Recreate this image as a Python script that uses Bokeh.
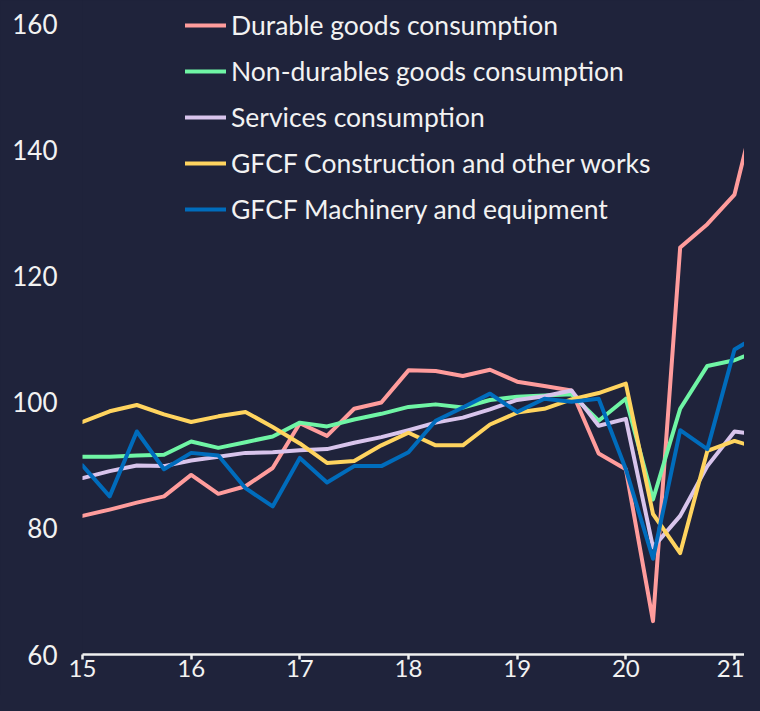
from bokeh.plotting import figure
from bokeh.models import FixedTicker, Range1d
from bokeh.embed import file_html
from bokeh.resources import INLINE

# Quarterly data, 2015Q1 .. 2021Q2 (index, 2019 = 100)
quarters = [f"{y}Q{q}" for y in range(2015, 2022) for q in range(1, 5)][:26]
durable = [82.0, 83.0, 84.1, 85.1, 88.5, 85.5, 86.7, 89.6, 96.7, 94.7, 99.0, 100.0,
           105.1, 105.0, 104.2, 105.2, 103.3, 102.6, 101.9, 91.9, 89.4, 65.3,
           124.6, 128.3, 133.0, 150.5]
nondurable = [91.4, 91.4, 91.6, 91.7, 93.8, 92.8, 93.7, 94.6, 96.8, 96.2, 97.3, 98.2,
              99.3, 99.7, 99.2, 100.4, 100.9, 101.1, 101.3, 97.1, 100.6, 84.6,
              99.0, 105.8, 106.7, 108.5]
services = [88.0, 89.1, 90.0, 89.9, 90.8, 91.4, 92.0, 92.1, 92.4, 92.6, 93.6, 94.5,
            95.6, 96.8, 97.6, 98.9, 100.4, 101.0, 101.9, 96.3, 97.4, 77.0,
            82.0, 89.9, 95.4, 94.8]
construction = [96.9, 98.6, 99.6, 98.1, 96.9, 97.8, 98.5, 96.1, 93.5, 90.4, 90.7, 93.2,
                95.2, 93.2, 93.2, 96.5, 98.4, 99.0, 100.5, 101.5, 103.0, 82.3,
                76.1, 92.3, 93.9, 92.6]
machinery = [90.0, 85.1, 95.4, 89.4, 92.0, 91.6, 86.4, 83.5, 91.2, 87.3, 89.9, 89.9,
             92.1, 97.1, 99.2, 101.4, 98.5, 100.6, 100.1, 100.6, 89.4, 75.2,
             95.6, 92.6, 108.4, 111.0]

series_names = ["Durable goods consumption", "Non-durables goods consumption",
                "Services consumption", "GFCF Construction and other works",
                "GFCF Machinery and equipment"]
series_colors = ["#FF9C9C", "#6FF5A5", "#D8C4EC", "#FFD45F", "#006CBC"]

tick_years = [2015, 2016, 2017, 2018, 2019, 2020, 2021]
tick_labels = ["15", "16", "17", "18", "19", "20", "21"]
y_ticks = [60, 80, 100, 120, 140, 160]

x = [int(qs[:4]) + (int(qs[5]) - 1) / 4 for qs in quarters]

BG = "#1F233B"
TXT = "#F2F2F2"
AXIS = "#F0F0F0"
FONT = "Lato"

p = figure(width=744, height=695, output_backend="svg", toolbar_location=None,
           x_range=Range1d(2015, 2021.092), y_range=Range1d(60, 163.8),
           min_border_left=82, min_border_right=0, min_border_top=0,
           min_border_bottom=41)
p.background_fill_color = BG
p.border_fill_color = BG
p.outline_line_color = None
p.grid.visible = False

for data, name, col in zip([durable, nondurable, services, construction, machinery],
                           series_names, series_colors):
    p.line(x, data, color=col, line_width=4, line_join="round", line_cap="round",
           legend_label=name)

# x axis
xa = p.xaxis[0]
xa.ticker = FixedTicker(ticks=tick_years)
xa.major_label_overrides = {yr: lab for yr, lab in zip(tick_years, tick_labels)}
xa.minor_tick_line_color = None
xa.axis_line_color = AXIS
xa.axis_line_width = 2.5
xa.major_tick_line_color = AXIS
xa.major_tick_line_width = 2.5
xa.major_tick_in = 0
xa.major_tick_out = 5
xa.major_label_standoff = 0
xa.major_label_text_font = FONT
xa.major_label_text_font_size = "24px"
xa.major_label_text_color = TXT

# y axis
ya = p.yaxis[0]
ya.ticker = FixedTicker(ticks=y_ticks)
ya.axis_line_color = None
ya.major_tick_line_color = None
ya.minor_tick_line_color = None
ya.major_label_standoff = 19
ya.major_label_text_font = FONT
ya.major_label_text_font_size = "26px"
ya.major_label_text_color = TXT

# legend
lg = p.legend[0]
lg.location = (103, 429)
lg.background_fill_alpha = 0
lg.border_line_color = None
lg.padding = 0
lg.margin = 0
lg.spacing = 14
lg.label_height = 32
lg.glyph_height = 32
lg.glyph_width = 41
lg.label_standoff = 5
lg.label_text_font = FONT
lg.label_text_font_size = "26.5px"
lg.label_text_color = TXT

html = file_html(p, INLINE)
html = html.replace("<head>", "<head><style>body{background:%s;}</style>" % BG, 1)
open("out.html", "w").write(html)
